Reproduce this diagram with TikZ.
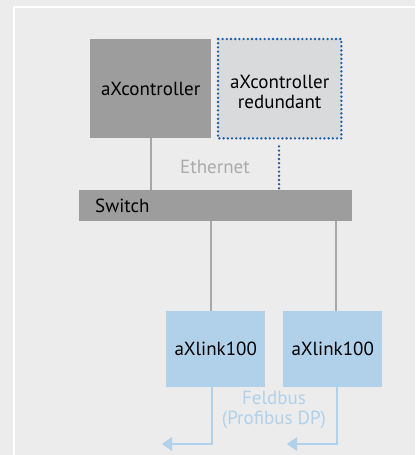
\documentclass[tikz,border=0pt]{standalone}
\usepackage{fontspec}
\setmainfont{PT Sans}
\definecolor{bg}{HTML}{ECECEC}
\definecolor{dkgray}{HTML}{9D9D9E}
\definecolor{ltgray}{HTML}{D9DADC}
\definecolor{dotblue}{HTML}{1A5AA6}
\definecolor{lineg}{HTML}{A8A8A8}
\definecolor{ltblue}{HTML}{B1D1EA}
\definecolor{ethtext}{HTML}{AAAAAA}
\begin{document}
\begin{tikzpicture}[x=1pt,y=-1pt,
  every node/.style={font=\fontsize{19}{20}\selectfont, text=black, inner sep=0pt},
  box/.style={draw=none, anchor=north west},
  conn/.style={draw=lineg, line width=1.6pt},
  bus/.style={draw=ltblue, line width=1.6pt},
  dotline/.style={draw=dotblue, line width=2.6pt, dash pattern=on 0pt off 4.2pt, line cap=round}]
\useasboundingbox (0,0) rectangle (415,455);
\fill[bg] (0,0) rectangle (415,455);
\draw[white, line width=1.5pt] (14,455) -- (14,7) -- (415,7);
% boxes
\node[box, fill=dkgray, minimum width=121pt, minimum height=99pt] (ctrl) at (90,39) {};
\node at (ctrl.center) (ctrlt) {aXcontroller};
\node[box, fill=ltgray, minimum width=123pt, minimum height=99pt] (red) at (218,39) {};
\draw[dotline] (red.north west) rectangle (red.south east);
\node[align=center] (redt) at ([yshift=-3pt]red.center) {aXcontroller\\redundant};
\node[box, fill=dkgray, minimum width=273pt, minimum height=31pt] (sw) at (79,190) {};
\node[anchor=west] (swt) at (95,205.5) {Switch};
\node[box, fill=ltblue, minimum width=99pt, minimum height=76pt] (l1) at (166,311) {};
\node at (l1.center) {aXlink100};
\node[box, fill=ltblue, minimum width=99pt, minimum height=76pt] (l2) at (283,311) {};
\node at (l2.center) {aXlink100};
% labels
\node[text=ethtext] (eth) at (215,167) {Ethernet};
\node[text=ltblue, align=center] (fb) at (274,410) {Feldbus\\(Profibus DP)};
% connectors
\coordinate (c1) at (151,190);
\draw[conn] (ctrl.south -| c1) -- (c1);
\coordinate (c2) at (279,190);
\draw[dotline] (red.south -| c2) ++(0,8) -- (c2);
\coordinate (s1) at (211,311);
\coordinate (s2) at (336,311);
\draw[conn] (sw.south -| s1) -- (s1);
\draw[conn] (sw.south -| s2) -- (s2);
\draw[bus] (l1.south -| 212,0) -- (212,444) -- (171,444);
\fill[ltblue] (162,444) -- (172,437) -- (172,451) -- cycle;
\draw[bus] (l2.south -| 337,0) -- (337,444) -- (296,444);
\fill[ltblue] (287,444) -- (297,437) -- (297,451) -- cycle;
\end{tikzpicture}
\end{document}
